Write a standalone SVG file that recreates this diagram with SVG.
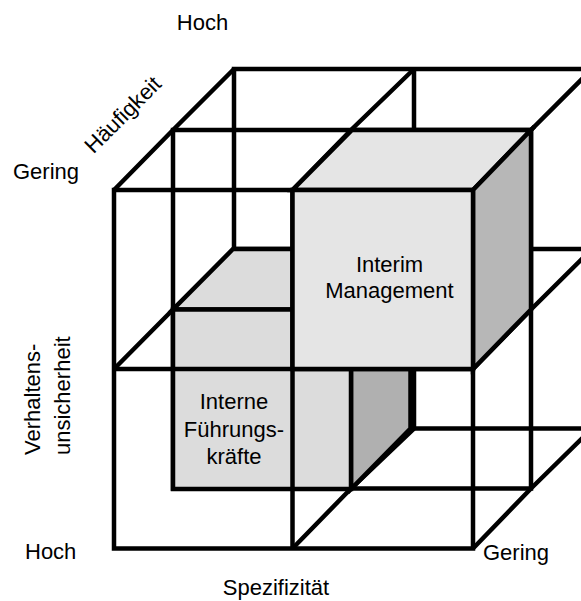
<svg xmlns="http://www.w3.org/2000/svg" width="581" height="601" viewBox="0 0 581 601">
  <style>
    .ln { stroke: #000; stroke-width: 4.5; fill: none; }
    .hv { stroke-linecap: square; }
    .dg { stroke-linecap: butt; stroke-linejoin: miter; }
    .face { stroke: #000; stroke-width: 4.5; stroke-linejoin: miter; }
    .lbl { font-family: "Liberation Sans", Arial, sans-serif; font-size: 22px; fill: #000; }
    .mid { text-anchor: middle; }
  </style>
  <rect width="581" height="601" fill="#fff"/>

  <!-- wireframe behind the lower cube: back plane, middle plane, depth edges -->
  <g id="connectors">
    <g id="grid-back">
      <path class="ln hv" d="M234 69H592M234 249H592M234 428.5H592M234 69V428.5M414 69V428.5"/>
      <path class="ln hv" d="M173 130H531M173 309.5H531M173 488.5H531M173 130V488.5M351 130V488.5M531 130V488.5"/>
      <path class="ln dg" d="M114 190L173 130L234 69"/>
      <path class="ln dg" d="M292.5 190L351 130L414 69"/>
      <path class="ln dg" d="M473 190L531 130L592 69"/>
      <path class="ln dg" d="M114 369L173 309.5L234 249"/>
      <path class="ln dg" d="M473 369L531 309.5L592 249"/>
      <path class="ln dg" d="M292.5 548.5L351 488.5L414 428.5"/>
      <path class="ln dg" d="M473 548.5L531 488.5L592 428.5"/>
    </g>
  </g>

  <!-- lower rear cell -->
  <g id="interne-fuehrungskraefte">
    <polygon class="face" fill="#dcdcdc" points="173,309.5 233,249 410.5,249 351,309.5"/>
    <polygon class="face" fill="#b0b0b0" points="351,309.5 410.5,249 410.5,428.5 351,489"/>
    <rect class="face" fill="#dcdcdc" x="173" y="309.5" width="178" height="179.5"/>
  </g>

  <!-- front plane of the wireframe -->
  <g id="grid-front">
    <path class="ln hv" d="M114 190H473M114 369H473M114 548.5H473M114 190V548.5M292.5 190V548.5M473 190V548.5"/>
  </g>

  <!-- upper front cell -->
  <g id="interim-management">
    <polygon class="face" fill="#e5e5e5" points="292.5,190 352,130 531,130 473,190"/>
    <polygon class="face" fill="#b7b7b7" points="473,190 531,130 531,309.5 473,369"/>
    <rect class="face" fill="#e5e5e5" x="292.5" y="190" width="180.5" height="179"/>
  </g>

  <g id="labels">
    <text class="lbl mid" x="389.5" y="272">Interim</text>
    <text class="lbl mid" x="389.5" y="298">Management</text>
    <text class="lbl mid" x="234" y="409">Interne</text>
    <text class="lbl mid" x="234" y="436.5">Führungs-</text>
    <text class="lbl mid" x="234" y="464">kräfte</text>

    <text class="lbl mid" x="202.5" y="30">Hoch</text>
    <text class="lbl" x="13" y="178.5">Gering</text>
    <text class="lbl mid" transform="translate(128 120) rotate(-45)">Häufigkeit</text>
    <text class="lbl" transform="translate(40 455) rotate(-90)">Verhaltens-</text>
    <text class="lbl" transform="translate(70 455) rotate(-90)">unsicherheit</text>
    <text class="lbl" x="25" y="559">Hoch</text>
    <text class="lbl" x="483" y="560">Gering</text>
    <text class="lbl mid" x="276" y="595">Spezifizität</text>
  </g>
</svg>
